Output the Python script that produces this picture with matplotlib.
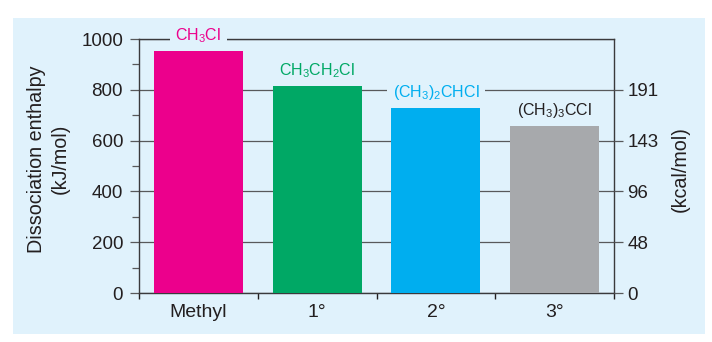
import matplotlib
matplotlib.use("Agg")
import matplotlib.pyplot as plt
from matplotlib.patches import Rectangle

# ---- data ----
categories = ["Methyl", "1°", "2°", "3°"]
compounds = ["CH$_3$Cl", "CH$_3$CH$_2$Cl", "(CH$_3$)$_2$CHCl", "(CH$_3$)$_3$CCl"]
enthalpy_kj = [953, 815, 729, 657]
kj_ticks = [0, 200, 400, 600, 800, 1000]
kcal_tick_pos = [0, 200, 400, 600, 800]
kcal_labels = ["0", "48", "96", "143", "191"]

bar_colors = ["#EC008C", "#00A865", "#00AEEF", "#A7A9AC"]
label_colors = ["#EC008C", "#00A865", "#00AEEF", "#231F20"]
panel = "#E0F2FC"
txt = "#231F20"
line = "#58595B"

plt.rcParams["font.family"] = ["Liberation Sans", "DejaVu Sans"]
plt.rcParams["mathtext.default"] = "regular"
plt.rcParams["font.size"] = 12

fig = plt.figure(figsize=(7.12, 3.42), dpi=100)
fig.patch.set_facecolor("white")
fig.patches.append(Rectangle((13/712, 8/342), (705-13)/712, (324-8)/342,
                             transform=fig.transFigure, facecolor=panel,
                             edgecolor="none", zorder=-10))

ax = fig.add_axes([139/712, 49/342, (614-139)/712, (293-39)/342])
ax.set_facecolor("none")
x = list(range(len(categories)))
ax.bar(x, enthalpy_kj, width=0.75, color=bar_colors, zorder=3)
ax.set_xlim(-0.5, len(categories) - 0.5)
ax.set_ylim(0, 1000)

ax.set_axisbelow(True)
ax.set_yticks(kj_ticks)
ax.set_yticks(list(range(100, 1000, 200)), minor=True)
ax.yaxis.grid(True, which="major", color=line, linewidth=0.9)
ax.tick_params(axis="y", which="major", direction="out", length=6.5, width=0.9,
               color=line, labelcolor=txt, labelsize=13.5, pad=5)
ax.tick_params(axis="y", which="minor", direction="out", length=5, width=0.9,
               color=line)

ax.set_xticks(x)
ax.set_xticklabels(categories)
ax.set_xticks([i - 0.5 for i in range(len(categories) + 1)], minor=True)
ax.tick_params(axis="x", which="major", length=0, labelcolor=txt,
               labelsize=14, pad=8)
ax.tick_params(axis="x", which="minor", direction="out", length=4, width=1.0,
               color="#231F20")

for s in ax.spines.values():
    s.set_color("#3a3a3c")
    s.set_linewidth(1.0)

for xi, v, lab, c in zip(x, enthalpy_kj, compounds, label_colors):
    ax.annotate(lab, (xi, v), xytext=(0, 11), textcoords="offset points",
                ha="center", va="center", color=c, fontsize=11.5, zorder=6,
                bbox=dict(boxstyle="square,pad=0.35", facecolor=panel,
                          edgecolor="none"))

ax2 = ax.twinx()
ax2.set_ylim(0, 1000)
ax2.set_yticks(kcal_tick_pos)
ax2.set_yticklabels(kcal_labels)
ax2.tick_params(axis="y", direction="out", length=6.5, width=0.9, color=line,
                labelcolor=txt, labelsize=13.5, pad=3)
for s in ax2.spines.values():
    s.set_visible(False)

fig.text(48.5/712, 1 - 159/342, "Dissociation enthalpy\n(kJ/mol)", rotation=90,
         ha="center", va="center", color=txt, fontsize=14.2, linespacing=1.3)
fig.text(680/712, 1 - 169/342, "(kcal/mol)", rotation=90, ha="center",
         va="center", color=txt, fontsize=14.2)

fig.savefig("out.png", dpi=100, facecolor="white")
